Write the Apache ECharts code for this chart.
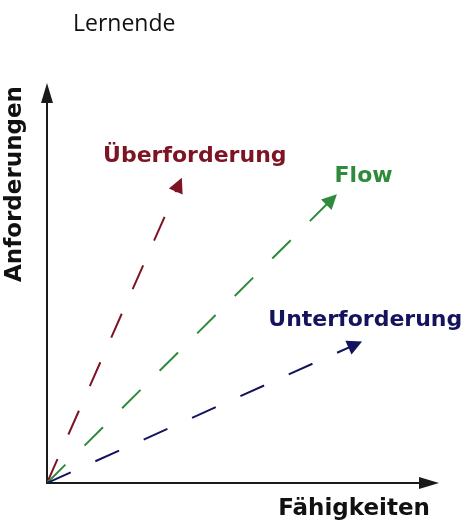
<!DOCTYPE html>
<html>
<head>
<meta charset="utf-8">
<script src="https://cdn.jsdelivr.net/npm/echarts@6/dist/echarts.min.js"></script>
<style>
  html, body { margin: 0; padding: 0; background: #fff; }
  #chart { width: 469px; height: 525px; }
</style>
</head>
<body>
<div id="chart"></div>
<script>
// arrows drawn from the origin (Fähigkeiten / Anforderungen, 0..100)
const names = ['Überforderung', 'Flow', 'Unterforderung']
const endX = [34.5, 74.5, 80.7]
const endY = [76.5, 72.7, 35.5]

const colors = ['#7d1424', '#2f8a3c', '#14145e']
const labelOffsets = [[16, -28], [32, -23], [10, -24]]
const boldFont = '"DejaVu Sans", Verdana, sans-serif'

const chart = echarts.init(document.getElementById('chart'))

const axisCommon = {
  type: 'value',
  min: 0,
  max: 100,
  axisTick: { show: false },
  axisLabel: { show: false },
  splitLine: { show: false },
  axisLine: {
    show: true,
    symbol: ['none', 'triangle'],
    symbolSize: [12, 20],
    lineStyle: { color: '#1a1a1a', width: 2 }
  }
}

chart.setOption({
  animation: false,
  title: {
    text: 'Lernende',
    left: 73,
    top: 13,
    padding: 0,
    textStyle: { fontFamily: '"Open Sans", sans-serif', fontWeight: 'normal', fontSize: 23, color: '#111' }
  },
  grid: { left: 47, right: 40, top: 93, bottom: 42 },
  xAxis: axisCommon,
  yAxis: axisCommon,
  graphic: [
    {
      type: 'text',
      x: 15,
      y: 184,
      rotation: Math.PI / 2,
      style: {
        text: 'Anforderungen',
        font: 'bold 23px ' + boldFont,
        fill: '#111',
        textAlign: 'center',
        textVerticalAlign: 'middle'
      }
    },
    {
      type: 'text',
      x: 354,
      y: 509,
      style: {
        text: 'Fähigkeiten',
        font: 'bold 23px ' + boldFont,
        fill: '#111',
        textAlign: 'center',
        textVerticalAlign: 'middle'
      }
    }
  ],
  series: [
    {
      type: 'lines',
      coordinateSystem: 'cartesian2d',
      symbol: ['none', 'triangle'],
      symbolSize: 15,
      data: names.map((n, i) => ({
        name: n,
        coords: [[0, 0], [endX[i], endY[i]]],
        lineStyle: { color: colors[i], width: 2, type: [26, 27], opacity: 1 }
      }))
    },
    {
      type: 'scatter',
      symbolSize: 0,
      silent: true,
      itemStyle: { opacity: 1 },
      data: names.map((n, i) => ({
        name: n,
        value: [endX[i], endY[i]],
        label: {
          show: true,
          position: 'inside',
          offset: labelOffsets[i],
          formatter: '{b}',
          fontFamily: boldFont,
          fontWeight: 'bold',
          fontSize: 22,
          color: colors[i]
        }
      }))
    }
  ]
})
</script>
</body>
</html>
